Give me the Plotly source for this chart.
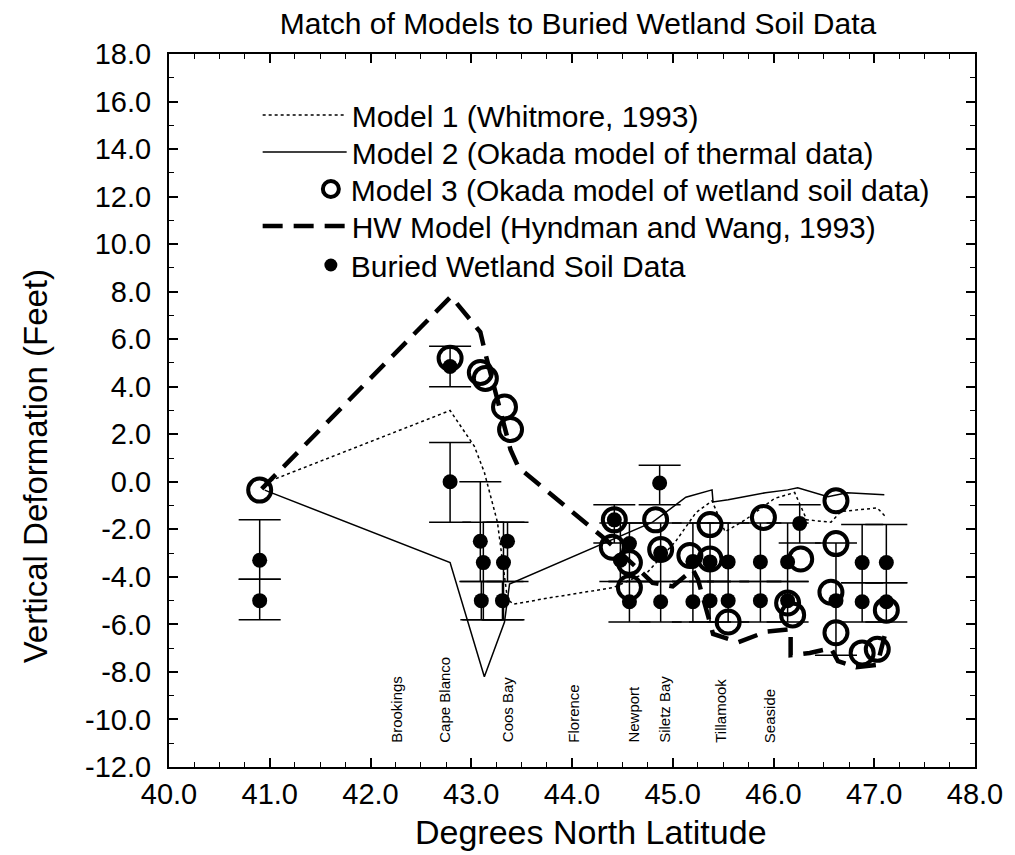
import plotly.graph_objects as go

# ---------------- data ----------------
m1_lat = [40.95, 42.79, 43.03, 43.13, 43.26, 43.36, 43.42, 43.75, 44.41, 44.75, 45.03, 45.23,
          45.39, 45.52, 45.72, 46.01, 46.21, 46.33, 46.57, 46.67, 47.03, 47.12]
m1_def = [-0.05, 3.0, 1.5, 0.4, -1.7, -4.95, -5.15, -4.9, -4.45, -3.8, -2.5, -1.3,
          -0.8, -2.1, -1.6, -0.7, -0.45, -1.6, -1.7, -1.25, -1.1, -1.5]

m2_lat = [40.95, 42.79, 43.13, 43.33, 43.38, 44.31, 44.80, 45.13, 45.39, 45.40, 45.55,
          45.92, 46.14, 46.24, 46.54, 46.73, 47.10]
m2_def = [-0.35, -3.40, -8.20, -5.90, -4.30, -2.60, -1.70, -0.65, -0.34, -0.85, -0.76,
          -0.46, -0.34, -0.25, -0.63, -0.46, -0.55]

m3_lat = [40.90, 42.79, 43.09, 43.14, 43.33, 43.39, 44.42, 44.40, 44.57, 44.57, 44.83, 44.88,
          45.17, 45.37, 45.37, 45.55, 45.90, 46.14, 46.19, 46.27, 46.62, 46.62, 46.57, 46.62,
          46.88, 47.03, 47.12]
m3_def = [-0.35, 5.2, 4.6, 4.35, 3.15, 2.2, -1.6, -2.75, -3.4, -4.45, -1.6, -2.85,
          -3.1, -1.8, -3.25, -5.9, -1.5, -5.1, -5.6, -3.25, -0.8, -2.6, -4.65, -6.35,
          -7.2, -7.05, -5.4]

hw_lat = [40.92, 42.80, 43.09, 43.14, 43.39, 43.47, 44.24, 44.34, 44.64, 44.80, 45.00, 45.20,
          45.25, 45.40, 45.65, 45.93, 46.17, 46.17, 46.36, 46.57, 46.64, 46.82, 47.03, 47.12]
hw_def = [-0.3, 7.8, 6.3, 5.4, 1.35, 0.6, -2.1, -2.45, -3.6, -4.25, -4.4, -3.7,
          -4.1, -6.4, -6.75, -6.3, -6.2, -7.3, -7.2, -7.0, -7.55, -7.8, -7.7, -6.2]

soil_lat = [40.90, 40.90, 42.79, 42.79, 43.09, 43.12, 43.10, 43.36, 43.32, 43.31,
            44.42, 44.48, 44.57, 44.57, 44.87, 44.88, 44.88, 45.20, 45.20, 45.37, 45.37,
            45.55, 45.55, 45.87, 45.87, 46.14, 46.14, 46.26, 46.62, 46.88, 46.88, 47.12, 47.12]
soil_def = [-3.3, -5.0, 4.85, 0.0, -2.5, -3.4, -5.0, -2.5, -3.4, -5.0,
            -1.6, -3.3, -2.6, -5.05, -0.05, -3.0, -5.05, -3.35, -5.05, -3.37, -5.0,
            -3.37, -5.0, -3.37, -5.0, -3.37, -5.0, -1.75, -5.0, -3.4, -5.05, -3.4, -5.05]
soil_top = [-1.6, -4.1, 5.7, 1.65, 0.0, -1.7, -4.2, -1.7, -1.7, -4.2,
            -0.97, -1.73, -1.73, -4.2, 0.7, -1.73, -4.2, -1.73, -4.2, -1.73, -4.2,
            -1.73, -4.2, -1.73, -4.2, -1.73, -4.2, -0.97, -2.57, -1.8, -4.25, -1.8, -4.25]
soil_bot = [-4.1, -5.8, 4.0, -1.7, -4.2, -5.8, -5.8, -4.2, -5.8, -5.8,
            -2.57, -4.2, -4.2, -5.9, -0.97, -4.2, -5.9, -4.2, -5.9, -4.2, -5.9,
            -4.2, -5.9, -4.2, -5.9, -4.2, -5.9, -2.57, -7.3, -4.25, -5.9, -4.25, -5.9]

place_names = ["Brookings", "Cape Blanco", "Coos Bay", "Florence", "Newport",
               "Siletz Bay", "Tillamook", "Seaside"]
place_lat = [42.25, 42.74, 43.36, 44.02, 44.61, 44.91, 45.48, 45.96]

x_ticks = [40.0, 41.0, 42.0, 43.0, 44.0, 45.0, 46.0, 47.0, 48.0]
y_ticks = [18.0, 16.0, 14.0, 12.0, 10.0, 8.0, 6.0, 4.0, 2.0, 0.0, -2.0, -4.0, -6.0, -8.0, -10.0, -12.0]

# ---------------- figure ----------------
FONT = "Liberation Sans, Arial, sans-serif"
err_plus = [t - v for t, v in zip(soil_top, soil_def)]
err_minus = [v - b for b, v in zip(soil_bot, soil_def)]

fig = go.Figure()

fig.add_trace(go.Scatter(
    x=m1_lat, y=m1_def, mode="lines", name="Model 1 (Whitmore, 1993)",
    line=dict(color="black", width=1.5, dash="dot"), legend="legend"))
fig.add_trace(go.Scatter(
    x=m2_lat, y=m2_def, mode="lines", name="Model 2 (Okada model of thermal data)",
    line=dict(color="black", width=1.5), legend="legend2"))
# data with error bars (hidden from legend)
fig.add_trace(go.Scatter(
    x=soil_lat, y=soil_def, mode="markers", showlegend=False,
    marker=dict(color="black", size=15),
    error_y=dict(type="data", symmetric=False, array=err_plus, arrayminus=err_minus,
                 color="black", thickness=1.5, width=21)))
fig.add_trace(go.Scatter(
    x=m3_lat, y=m3_def, mode="markers", name="Model 3 (Okada model of wetland soil data)",
    marker=dict(symbol="circle-open", size=23, color="black", line=dict(width=4, color="black")),
    legend="legend3"))
fig.add_trace(go.Scatter(
    x=hw_lat, y=hw_def, mode="lines", name="HW Model (Hyndman and Wang, 1993)",
    line=dict(color="black", width=4.5, dash="20px,11px"), legend="legend4"))
# legend entry for the soil data
fig.add_trace(go.Scatter(
    x=[None], y=[None], mode="markers", name="Buried Wetland Soil Data",
    marker=dict(color="black", size=13), legend="legend5"))

for name, lat in zip(place_names, place_lat):
    fig.add_annotation(x=lat, y=-11.06, text=name, textangle=-90, showarrow=False,
                       xanchor="center", yanchor="bottom",
                       font=dict(family=FONT, size=15, color="black"))

# axis titles (placed as in the reference, not centred on the plot)
fig.add_annotation(x=-0.166, y=0.422, xref="paper", yref="paper",
                   text="Vertical Deformation (Feet)", textangle=-90, showarrow=False,
                   xanchor="center", yanchor="middle",
                   font=dict(family=FONT, size=33, color="black"))
fig.add_annotation(x=0.524, y=-0.0912, xref="paper", yref="paper",
                   text="Degrees North Latitude", showarrow=False,
                   xanchor="center", yanchor="middle",
                   font=dict(family=FONT, size=34, color="black"))

axis_common = dict(
    showline=True, linewidth=2, linecolor="black", mirror="ticks",
    ticks="inside", ticklen=9, tickwidth=1.5, tickcolor="black",
    showgrid=False, zeroline=False,
    tickfont=dict(family=FONT, size=29, color="black"),
)
fig.update_xaxes(range=[40, 48], tickvals=x_ticks, ticktext=[f"{v:.1f}" for v in x_ticks],
                 minor=dict(dtick=0.25, ticks="inside", ticklen=5, tickcolor="black", tickwidth=1),
                 **axis_common)
fig.update_yaxes(range=[-12, 18], tickvals=y_ticks, ticktext=[f"{v:.1f}" for v in y_ticks],
                 minor=dict(dtick=1, ticks="inside", ticklen=5, tickcolor="black", tickwidth=1),
                 ticklabelstandoff=10,
                 **axis_common)

# legends: one per entry so that rows sit at the reference spacing
row_centres_px = [115, 152, 189, 226, 265]
row_y = [(767 - r) / 713 for r in row_centres_px]
leg_font = dict(family=FONT, size=30, color="black")
line_leg = dict(x=0.11, xanchor="left", yanchor="middle", font=leg_font,
                bgcolor="rgba(0,0,0,0)", itemwidth=84)
mark_leg = dict(x=0.176, xanchor="left", yanchor="middle", font=leg_font,
                bgcolor="rgba(0,0,0,0)", itemwidth=30, itemsizing="trace")

fig.update_layout(
    width=1007, height=847,
    margin=dict(l=161, r=33, t=46, b=88),
    paper_bgcolor="white", plot_bgcolor="white",
    title=dict(text="Match of Models to Buried Wetland Soil Data", x=0.566, xanchor="center",
               y=0.982, yanchor="middle", font=dict(family=FONT, size=30, color="black")),
    legend=dict(y=row_y[0], **line_leg),
    legend2=dict(y=row_y[1], **line_leg),
    legend3=dict(y=row_y[2], **mark_leg),
    legend4=dict(y=row_y[3], **line_leg),
    legend5=dict(y=row_y[4], **mark_leg),
    showlegend=True,
)

fig.write_html("out.html")
